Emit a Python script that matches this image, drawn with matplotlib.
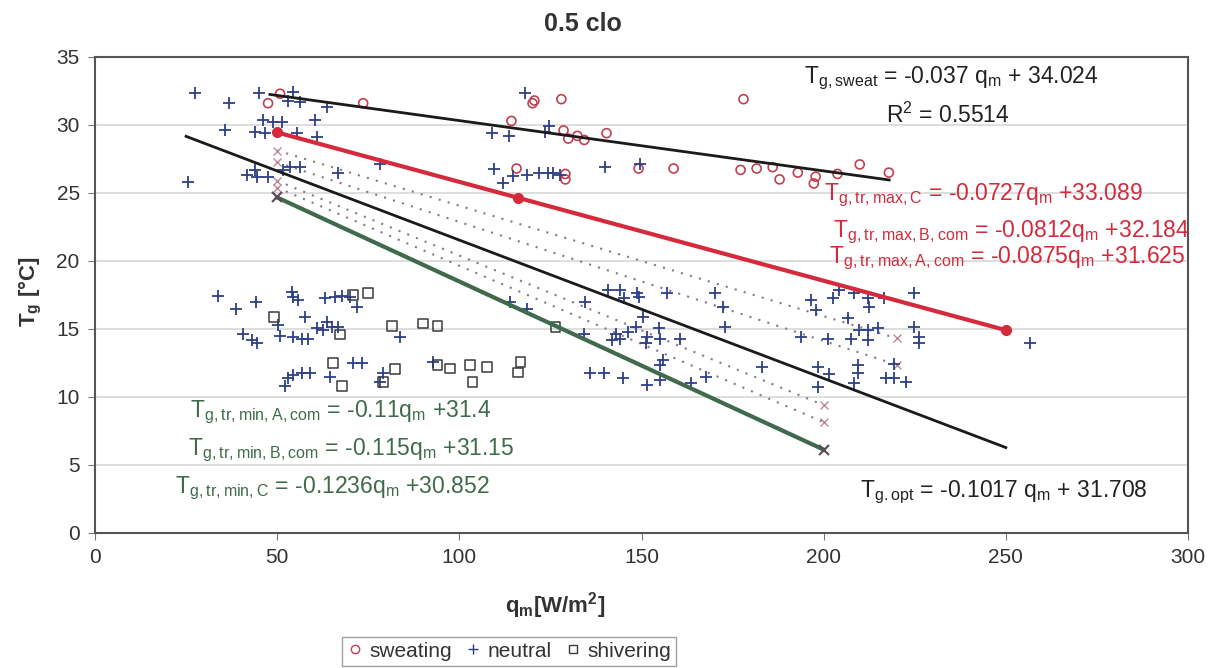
import numpy as np
import matplotlib
matplotlib.use("Agg")
import matplotlib.pyplot as plt
from matplotlib.lines import Line2D

plt.rcParams['font.family'] = ['Liberation Sans', 'DejaVu Sans']
plt.rcParams['mathtext.default'] = 'regular'

# measured points (q_m, T_g)
sweat_q = [47.5, 50.8, 73.6, 120.1, 120.6, 128.0, 114.3, 128.6, 129.9, 132.4, 134.3, 140.4,
           115.7, 129.1, 129.1, 149.2, 158.8, 178.0, 177.2, 181.6, 186.0, 187.9, 192.9, 197.8,
           197.3, 203.8, 209.9, 217.9]
sweat_T = [31.6, 32.3, 31.6, 31.6, 31.8, 31.9, 30.3, 29.6, 29.0, 29.2, 28.9, 29.4,
           26.8, 26.0, 26.4, 26.8, 26.8, 31.9, 26.7, 26.8, 26.9, 26.0, 26.5, 26.2,
           25.7, 26.4, 27.1, 26.5]

neutral_q = [27.5, 36.8, 45.1, 54.4, 53.0, 56.3, 63.7, 46.2, 48.9, 51.4, 60.4, 35.7, 44.0, 46.7,
             55.5, 61.0, 41.8, 44.0, 44.5, 47.5, 51.6, 53.6, 56.3, 66.8, 25.5, 78.3,
             117.9, 109.1, 113.5, 124.5, 123.6, 109.6, 114.6, 112.1, 118.7, 122.0, 124.2, 125.8,
             127.7, 140.1, 149.5,
             140.7, 144.2, 148.9, 157.1, 170.3, 204.1, 208.2, 224.7,
             202.5, 196.4, 197.8, 212.1, 212.4, 216.5, 206.6, 193.7, 201.1, 207.4, 209.6, 212.1,
             214.8, 212.1, 224.7, 226.1, 226.1, 256.6, 183.2, 198.4, 201.4, 209.3, 209.3, 219.2,
             198.4, 208.2, 217.0, 219.2, 222.5,
             114.0, 118.7, 134.6, 145.1, 149.2, 172.5, 172.8, 150.5, 148.4, 146.2, 142.9, 144.2,
             142.0, 151.6, 151.1, 154.7, 155.2, 160.7, 156.0, 155.2, 134.1, 136.0, 139.6, 144.8,
             151.6, 155.2, 163.5, 167.6,
             33.8, 38.7, 44.2, 54.1, 54.4, 55.8, 63.2, 65.9, 67.9, 70.1, 72.0, 57.7, 50.3, 63.7,
             61.0, 62.6, 65.1, 66.8, 40.7, 43.1, 44.5, 50.8, 54.4, 56.9, 58.5, 83.8, 53.0, 52.2,
             54.4, 56.9, 59.1, 64.6, 70.9, 73.4, 79.1, 78.3, 92.9]
neutral_T = [32.35, 31.6, 32.35, 32.4, 31.8, 31.7, 31.3, 30.4, 30.2, 30.2, 30.4, 29.6, 29.5, 29.4,
             29.4, 29.1, 26.3, 26.7, 26.2, 26.2, 26.7, 26.9, 26.9, 26.5, 25.8, 27.1,
             32.35, 29.4, 29.2, 29.9, 29.5, 26.8, 26.25, 25.7, 26.3, 26.5, 26.5, 26.5,
             26.3, 26.9, 27.1,
             17.9, 17.9, 17.65, 17.65, 17.65, 17.9, 17.65, 17.65,
             17.3, 17.1, 16.4, 17.3, 16.6, 17.3, 15.8, 14.4, 14.3, 14.3, 14.9, 14.9,
             15.1, 14.2, 15.15, 14.4, 14.0, 14.0, 12.2, 12.2, 11.7, 12.35, 11.8, 12.4,
             10.7, 11.0, 11.4, 11.4, 11.1,
             17.0, 16.5, 17.0, 17.3, 17.35, 16.6, 15.15, 15.9, 15.15, 14.8, 14.6, 14.3,
             14.2, 14.4, 14.0, 15.1, 14.25, 14.3, 12.7, 12.35, 14.6, 11.8, 11.8, 11.4,
             10.9, 11.25, 11.0, 11.5,
             17.4, 16.5, 17.0, 17.7, 17.35, 17.1, 17.3, 17.35, 17.4, 17.35, 16.6, 15.9, 15.3, 15.5,
             15.1, 14.9, 15.15, 15.15, 14.6, 14.2, 14.0, 14.5, 14.4, 14.3, 14.3, 14.4, 11.4, 10.8,
             11.6, 11.8, 11.8, 11.5, 12.5, 12.5, 11.8, 11.1, 12.6]

shiver_q = [75.0, 70.9, 49.2, 67.3, 81.6, 90.1, 94.0, 65.4, 67.9, 82.4, 79.1, 94.0, 97.5,
            103.0, 103.6, 107.7, 116.8, 116.2, 126.4]
shiver_T = [17.65, 17.5, 15.9, 14.6, 15.2, 15.4, 15.2, 12.5, 10.8, 12.05, 11.1, 12.35, 12.1,
            12.35, 11.1, 12.2, 12.6, 11.8, 15.15]

# regression / limit lines: slope, intercept, q range
sweat_line = (-0.037, 34.024, [48, 218])
opt_line = (-0.1017, 31.708, [25, 250])
max_C = (-0.0727, 33.089, [50, 116, 250])
max_B = (-0.0812, 32.184, [50, 220])
max_A = (-0.0875, 31.625, [50, 220])
min_A = (-0.11, 31.4, [50, 200])
min_B = (-0.115, 31.15, [50, 200])
min_C = (-0.1236, 30.852, [50, 200])


def line_pts(line):
    k, b, q = line
    q = np.array(q, dtype=float)
    return q, k * q + b


fig = plt.figure(figsize=(12.09, 6.68), dpi=100)
ax = fig.add_axes([95 / 1209, 135 / 668, 1093 / 1209, 476 / 668])

red = '#d42a3c'
green = '#3f6b4c'
dotc = '#8c7490'

ax.scatter(sweat_q, sweat_T, s=42, facecolors='none', edgecolors='#c24050', linewidths=1.2, zorder=3)
ax.scatter(neutral_q, neutral_T, s=70, marker='+', color='#2d3f86', linewidths=1.3, zorder=3)
ax.scatter(shiver_q, shiver_T, s=50, marker='s', facecolors='none', edgecolors='#3a3a3a', linewidths=1.1, zorder=3)

q, t = line_pts(sweat_line)
ax.plot(q, t, color='#1a1a1a', lw=2, zorder=4)
q, t = line_pts(opt_line)
ax.plot(q, t, color='#1a1a1a', lw=2, zorder=4)
q, t = line_pts(max_C)
ax.plot(q, t, color=red, lw=3, marker='o', ms=7, zorder=4)
q, t = line_pts(min_C)
ax.plot(q, t, color=green, lw=3, marker='x', ms=7, mew=1.5, mec='#5a4a55', zorder=4)
for ln in (max_B, max_A, min_A, min_B):
    q, t = line_pts(ln)
    ax.plot(q, t, color=dotc, lw=1.5, ls=(0, (1, 3.5)), marker='x', ms=6, mec='#c08a9a', zorder=2)

ax.set_xlim(0, 300)
ax.set_ylim(0, 35)
ax.set_xticks(range(0, 301, 50))
ax.set_yticks(range(0, 36, 5))
ax.tick_params(labelsize=15, direction='out', length=5, color='#777', labelcolor='#333', pad=6)
ax.grid(axis='y', color='#d8d8d8', lw=1.2)
ax.set_axisbelow(True)
for s in ax.spines.values():
    s.set_color('#555')
    s.set_linewidth(1.5)

fs = 16.5
ax.text(194.5, 33.4, 'T$_{g,sweat}$ = -0.037 q$_m$ + 34.024', fontsize=fs, color='#222', va='center')
ax.text(217, 30.7, 'R$^2$ = 0.5514', fontsize=fs, color='#222', va='center')
ax.text(200, 24.85, 'T$_{g,tr,max,C}$ = -0.0727q$_m$ +33.089', fontsize=fs, color=red, va='center')
ax.text(202.5, 22.1, 'T$_{g,tr,max,B,com}$ = -0.0812q$_m$ +32.184', fontsize=fs, color=red, va='center')
ax.text(201.5, 20.2, 'T$_{g,tr,max,A,com}$ = -0.0875q$_m$ +31.625', fontsize=fs, color=red, va='center')
ax.text(26, 8.9, 'T$_{g,tr,min,A,com}$ = -0.11q$_m$ +31.4', fontsize=fs, color=green, va='center')
ax.text(25.5, 6.1, 'T$_{g,tr,min,B,com}$ = -0.115q$_m$ +31.15', fontsize=fs, color=green, va='center')
ax.text(22, 3.3, 'T$_{g,tr,min,C}$ = -0.1236q$_m$ +30.852', fontsize=fs, color=green, va='center')
ax.text(210, 3.0, 'T$_{g.opt}$ = -0.1017 q$_m$ + 31.708', fontsize=fs, color='#222', va='center')

fig.text(583 / 1209, 1 - 24 / 668, '0.5 clo', fontsize=18, fontweight='bold', color='#333',
         ha='center', va='center')
fig.text(555 / 1209, 1 - 606 / 668, 'q$_m$[W/m$^2$]', fontsize=16, fontweight='bold', color='#333',
         ha='center', va='center')
fig.text(30 / 1209, 1 - 292 / 668, 'T$_g$ [°C]', fontsize=16, fontweight='bold', color='#333',
         ha='center', va='center', rotation=90)

handles = [
    Line2D([], [], ls='none', marker='o', mfc='none', mec='#c24050', ms=6),
    Line2D([], [], ls='none', marker='+', color='#2d3f86', ms=7),
    Line2D([], [], ls='none', marker='s', mfc='none', mec='#3a3a3a', ms=6),
]
leg = fig.legend(handles, ['sweating', 'neutral', 'shivering'], loc='lower center',
                 bbox_to_anchor=(509 / 1209, 0.0), ncol=3, fontsize=15,
                 frameon=True, fancybox=False, edgecolor='#888', handlelength=0.8,
                 handletextpad=0.3, columnspacing=0.6, borderpad=0.25, borderaxespad=0.1)
for txt in leg.get_texts():
    txt.set_color('#333')

fig.savefig('out.png', dpi=100)
